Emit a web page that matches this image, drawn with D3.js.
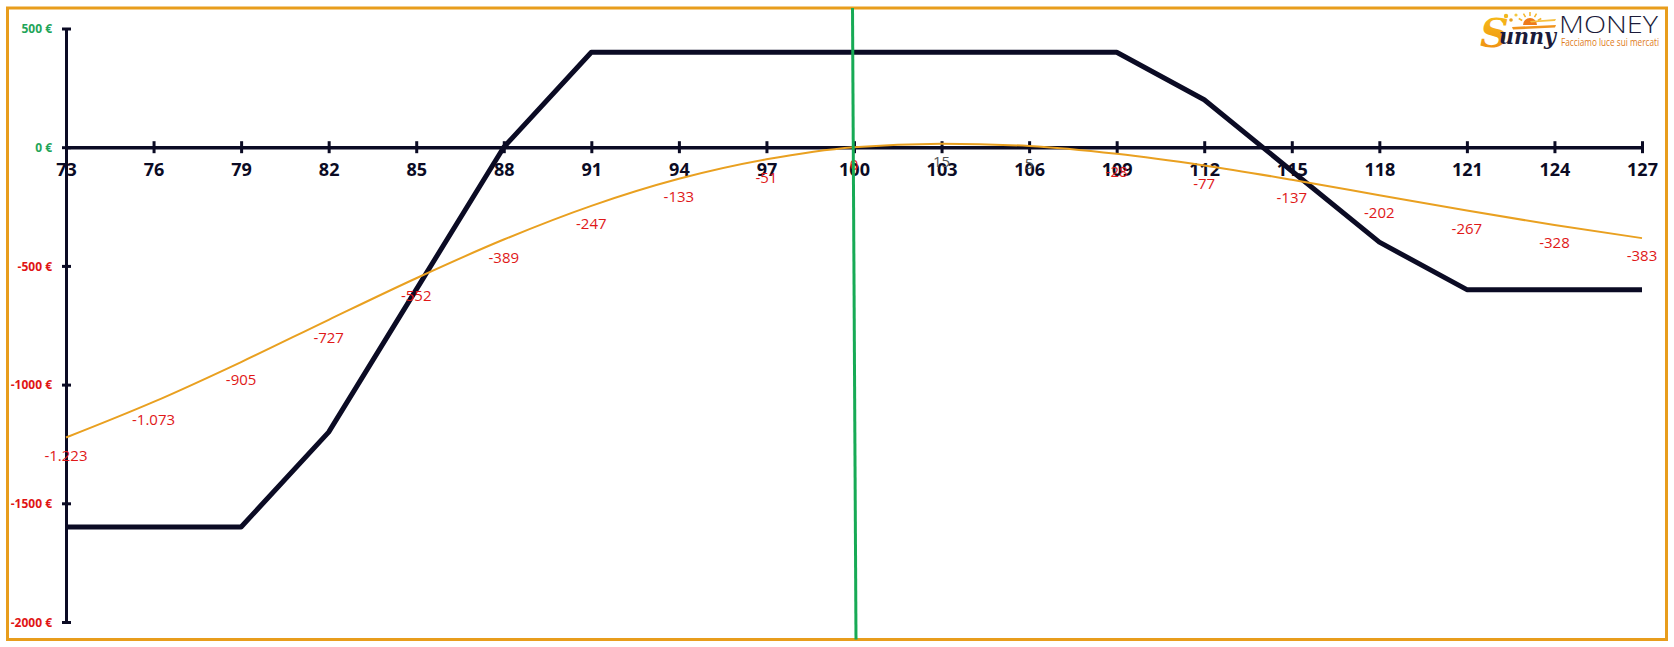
<!DOCTYPE html>
<html>
<head>
<meta charset="utf-8">
<script src="https://cdn.jsdelivr.net/npm/d3@7"></script>
<style>
  html, body { margin: 0; padding: 0; background: #fff; }
  svg { display: block; }
</style>
</head>
<body>
<svg id="chart" width="1674" height="647"></svg>
<script>
// ---------- DATA ----------
const strikes = [73, 76, 79, 82, 85, 88, 91, 94, 97, 100, 103, 106, 109, 112, 115, 118, 121, 124, 127];
const expiryPL = [-1600, -1600, -1600, -1200, -600, 0, 400, 400, 400, 400, 400, 400, 400, 200, -100, -400, -600, -600, -600];
const todayPL = [-1223, -1073, -905, -727, -552, -389, -247, -133, -51, 0, 15, 5, -28, -77, -137, -202, -267, -328, -383];
const todayLabels = ["-1.223", "-1.073", "-905", "-727", "-552", "-389", "-247", "-133", "-51", "0", "15", "5", "-28", "-77", "-137", "-202", "-267", "-328", "-383"];
const yTicks = [500, 0, -500, -1000, -1500, -2000];
const yTickLabels = ["500 €", "0 €", "-500 €", "-1000 €", "-1500 €", "-2000 €"];
const spotPrice = 100;

// ---------- SETUP ----------
const svg = d3.select("#chart");
const frame = { left: 7.5, top: 8, right: 1666.5, bottom: 639.5 };

const x = d3.scaleLinear().domain([73, 127]).range([66, 1642]);
const y = d3.scaleLinear().domain([-2000, 500]).range([622, 28.5]);

svg.append("rect")
  .attr("x", frame.left).attr("y", frame.top)
  .attr("width", frame.right - frame.left).attr("height", frame.bottom - frame.top)
  .attr("fill", "#fff").attr("stroke", "#E89D1C").attr("stroke-width", 3);

const navy = "#0b0b24";

// ---------- Y AXIS ----------
const yAxis = d3.axisLeft(y).tickValues(yTicks).tickSize(0).tickFormat((d, i) => yTickLabels[i]);
const gy = svg.append("g").attr("transform", `translate(${x(73)},0)`).call(yAxis);
gy.select(".domain").attr("stroke", navy).attr("stroke-width", 3);
gy.selectAll(".tick line").remove();
gy.selectAll(".tick").append("line")
  .attr("x1", -4).attr("x2", 5).attr("stroke", navy).attr("stroke-width", 3);
gy.selectAll(".tick text")
  .attr("x", -14).attr("dy", "0.35em")
  .attr("font-family", "'Open Sans', 'Noto Sans', sans-serif")
  .attr("font-weight", "bold").attr("font-size", 12)
  .attr("fill", d => d >= 0 ? "#1FA55A" : "#E01515");

// ---------- X AXIS ----------
const xAxis = d3.axisBottom(x).tickValues(strikes).tickSize(0).tickFormat(d3.format("d"));
const gx = svg.append("g").attr("transform", `translate(0,${y(0)})`).call(xAxis);
gx.select(".domain").attr("stroke", navy).attr("stroke-width", 3.5);
gx.selectAll(".tick line").remove();
gx.selectAll(".tick").append("line")
  .attr("y1", -6).attr("y2", 6).attr("stroke", navy).attr("stroke-width", 3);
gx.selectAll(".tick text")
  .attr("y", 29).attr("dy", 0)
  .attr("font-family", "'Open Sans', 'Noto Sans', sans-serif")
  .attr("font-weight", "bold").attr("font-size", 18)
  .attr("fill", navy);

// ---------- EXPIRY P/L (black) ----------
const pts = strikes.map((s, i) => ({ s, v: expiryPL[i] }));
svg.append("path")
  .datum(pts)
  .attr("fill", "none").attr("stroke", navy).attr("stroke-width", 5)
  .attr("stroke-linejoin", "round")
  .attr("d", d3.line().x(d => x(d.s)).y(d => y(d.v)));

// ---------- TODAY P/L (orange curve) ----------
const tpts = strikes.map((s, i) => ({ s, v: todayPL[i], l: todayLabels[i] }));
svg.append("path")
  .datum(tpts)
  .attr("fill", "none").attr("stroke", "#E9A020").attr("stroke-width", 2)
  .attr("d", d3.line().curve(d3.curveMonotoneX).x(d => x(d.s)).y(d => y(d.v)));

svg.append("g").selectAll("text")
  .data(tpts).join("text")
  .attr("x", d => x(d.s)).attr("y", d => y(d.v) + 18)
  .attr("dy", "0.35em")
  .attr("text-anchor", "middle")
  .attr("font-family", "'Open Sans', 'Noto Sans', sans-serif")
  .attr("font-size", 15)
  .attr("fill", d => d.v > 0 ? "#555555" : "#E01818")
  .text(d => d.l);

// ---------- SPOT LINE (green) ----------
svg.append("line")
  .attr("x1", x(spotPrice) - 1.5).attr("y1", frame.top)
  .attr("x2", x(spotPrice) + 2).attr("y2", frame.bottom)
  .attr("stroke", "#17AA55").attr("stroke-width", 3);

// ---------- LOGO ----------
const logo = svg.append("g");
const defs = svg.append("defs");
const grad = defs.append("linearGradient").attr("id", "sunGrad")
  .attr("x1", "0").attr("y1", "0").attr("x2", "0").attr("y2", "1");
grad.append("stop").attr("offset", "0%").attr("stop-color", "#F7C21A");
grad.append("stop").attr("offset", "100%").attr("stop-color", "#EE8A12");

[[1506, 16, 2.2, "#F2B81E"], [1511, 20, 1.8, "#E8A020"], [1516, 15, 1.6, "#F4C842"], [1503, 21, 1.5, "#F0A21E"]]
  .forEach(([cx, cy, r, c]) => logo.append("circle").attr("cx", cx).attr("cy", cy).attr("r", r).attr("fill", c));
logo.append("path")
  .attr("d", "M1523,25 A7,7 0 0 1 1537,25 Z")
  .attr("fill", "#EE7A1A");
[-60, -30, 0, 30, 60].forEach(a => {
  const rad = (a - 90) * Math.PI / 180;
  logo.append("line")
    .attr("x1", 1530 + Math.cos(rad) * 9).attr("y1", 25 + Math.sin(rad) * 9)
    .attr("x2", 1530 + Math.cos(rad) * 13).attr("y2", 25 + Math.sin(rad) * 13)
    .attr("stroke", "#F5B52A").attr("stroke-width", 1.5);
});
logo.append("path").attr("d", "M1512,27 L1556,25 L1555,27.5 L1513,29.5 Z").attr("fill", "#F0941E");
logo.append("path").attr("d", "M1530,21 L1556,19 L1555,21 L1531,22.5 Z").attr("fill", "#F6C040");

logo.append("text")
  .attr("x", 1480).attr("y", 47)
  .attr("font-family", "'DejaVu Serif', serif").attr("font-style", "italic").attr("font-weight", "bold")
  .attr("font-size", 40).attr("fill", "url(#sunGrad)")
  .text("S");
logo.append("text")
  .attr("x", 1499).attr("y", 44)
  .attr("font-family", "'DejaVu Serif', serif").attr("font-style", "italic").attr("font-weight", "bold")
  .attr("font-size", 23).attr("fill", "#1B1B3A")
  .attr("textLength", 57).attr("lengthAdjust", "spacingAndGlyphs")
  .text("unny");
logo.append("text")
  .attr("x", 1559).attr("y", 33)
  .attr("font-family", "'Open Sans', 'Noto Sans', sans-serif").attr("font-weight", 300)
  .attr("font-size", 24).attr("fill", "#1B1B3A")
  .attr("textLength", 99).attr("lengthAdjust", "spacingAndGlyphs")
  .text("MONEY");
logo.append("text")
  .attr("x", 1561).attr("y", 46)
  .attr("font-family", "'Open Sans', 'Noto Sans', sans-serif")
  .attr("font-size", 11).attr("fill", "#E07B1A")
  .attr("textLength", 98).attr("lengthAdjust", "spacingAndGlyphs")
  .text("Facciamo luce sui mercati");
</script>
</body>
</html>
